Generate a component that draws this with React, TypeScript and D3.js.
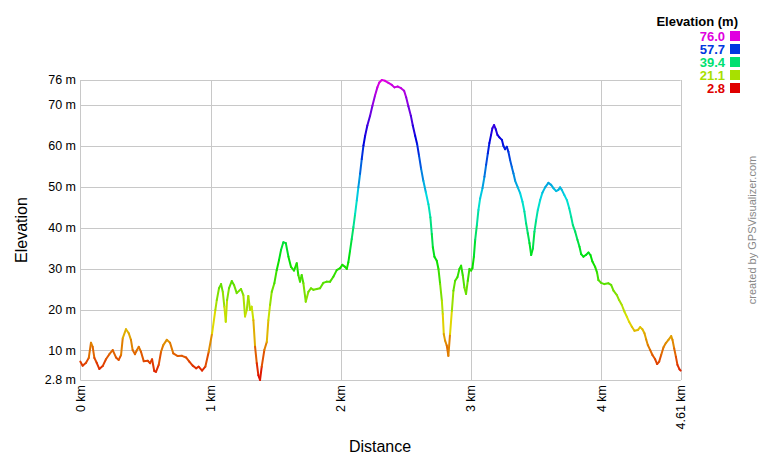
import React from "react";
import * as d3 from "d3";

const distanceKm = [
  0, 0.018, 0.044, 0.065, 0.082, 0.095, 0.108, 0.126, 0.146, 0.172, 0.197, 0.223, 0.249, 0.274, 0.295, 0.313,
  0.326, 0.351, 0.372, 0.389, 0.402, 0.42, 0.433, 0.449, 0.466, 0.487, 0.518, 0.535, 0.551, 0.568, 0.581, 0.602,
  0.62, 0.637, 0.664, 0.689, 0.714, 0.748, 0.781, 0.812, 0.837, 0.863, 0.889, 0.909, 0.935, 0.96, 0.986, 1.012,
  1.037, 1.048, 1.065, 1.081, 1.094, 1.106, 1.117, 1.127, 1.142, 1.163, 1.18, 1.201, 1.234, 1.252, 1.265, 1.278,
  1.29, 1.303, 1.316, 1.329, 1.342, 1.355, 1.367, 1.38, 1.393, 1.413, 1.432, 1.444, 1.457, 1.47, 1.49, 1.508,
  1.526, 1.541, 1.559, 1.578, 1.598, 1.618, 1.641, 1.662, 1.674, 1.687, 1.7, 1.713, 1.731, 1.751, 1.772, 1.79,
  1.816, 1.841, 1.866, 1.892, 1.918, 1.943, 1.969, 1.995, 2.012, 2.033, 2.046, 2.058, 2.071, 2.084, 2.097, 2.11,
  2.123, 2.135, 2.148, 2.161, 2.174, 2.187, 2.204, 2.225, 2.243, 2.263, 2.281, 2.296, 2.315, 2.34, 2.366, 2.392,
  2.412, 2.438, 2.463, 2.486, 2.502, 2.519, 2.538, 2.553, 2.571, 2.586, 2.601, 2.617, 2.634, 2.653, 2.673, 2.688,
  2.699, 2.707, 2.719, 2.737, 2.75, 2.763, 2.776, 2.783, 2.791, 2.801, 2.814, 2.826, 2.839, 2.853, 2.865, 2.878,
  2.896, 2.911, 2.924, 2.937, 2.949, 2.962, 2.975, 2.988, 3.001, 3.011, 3.022, 3.032, 3.045, 3.057, 3.07, 3.088,
  3.103, 3.116, 3.129, 3.141, 3.154, 3.164, 3.177, 3.19, 3.203, 3.218, 3.237, 3.249, 3.262, 3.275, 3.287, 3.3,
  3.313, 3.326, 3.339, 3.359, 3.377, 3.395, 3.41, 3.423, 3.436, 3.449, 3.462, 3.475, 3.487, 3.5, 3.513, 3.531,
  3.548, 3.569, 3.594, 3.615, 3.633, 3.654, 3.671, 3.684, 3.697, 3.717, 3.736, 3.754, 3.769, 3.782, 3.8, 3.817,
  3.833, 3.846, 3.863, 3.882, 3.902, 3.917, 3.932, 3.953, 3.968, 3.978, 3.999, 4.024, 4.055, 4.076, 4.094, 4.12,
  4.137, 4.158, 4.178, 4.197, 4.214, 4.235, 4.255, 4.281, 4.299, 4.316, 4.332, 4.345, 4.358, 4.376, 4.393, 4.414,
  4.429, 4.445, 4.46, 4.478, 4.496, 4.516, 4.537, 4.547, 4.56, 4.573, 4.585, 4.601, 4.61,
];

const elevationM = [
  7.3, 6.3, 7.0, 8.2, 11.9, 10.9, 8.2, 7.0, 5.5, 6.2, 7.85, 9.1, 10.1, 8.3, 7.7, 8.9,
  13.0, 15.2, 14.2, 12.6, 10.1, 9.1, 10.0, 10.9, 9.7, 7.4, 7.5, 6.9, 7.85, 5.0, 4.8, 6.5,
  9.7, 11.3, 12.6, 11.9, 9.3, 8.65, 8.7, 8.3, 7.3, 6.3, 5.65, 6.05, 5.1, 6.05, 9.7, 14.2,
  19.9, 22.3, 25.2, 26.2, 24.3, 20.7, 17.0, 22.3, 25.2, 26.95, 26.0, 24.0, 25.0, 23.5, 18.3, 19.9,
  23.3, 19.9, 20.7, 17.4, 10.9, 6.9, 4.0, 2.8, 6.05, 10.1, 12.1, 17.4, 21.1, 24.3, 26.4, 29.6,
  32.1, 34.5, 36.4, 36.2, 32.9, 30.4, 29.5, 31.3, 28.4, 26.8, 28.4, 26.4, 21.9, 24.3, 25.2, 24.8,
  25.0, 25.2, 26.5, 26.8, 26.8, 28.0, 29.6, 30.1, 30.9, 30.4, 29.9, 31.5, 34.3, 37.2, 40.1, 43.3,
  46.6, 49.8, 53.1, 56.7, 60.0, 62.4, 64.9, 67.3, 69.7, 72.2, 74.2, 75.4, 76.0, 75.8, 75.3, 74.8,
  74.2, 74.4, 74.0, 73.4, 71.8, 69.6, 67.3, 64.9, 62.4, 60.4, 57.5, 54.3, 51.4, 48.6, 45.7, 42.5,
  38.4, 35.2, 32.9, 31.9, 29.9, 26.2, 22.2, 18.9, 14.0, 12.4, 11.2, 8.7, 14.0, 19.7, 24.6, 27.0,
  27.9, 29.9, 30.7, 28.3, 25.4, 23.8, 27.0, 29.9, 29.5, 30.1, 32.9, 37.0, 40.6, 44.3, 47.1, 49.6,
  52.4, 55.3, 58.1, 60.6, 62.6, 64.2, 65.0, 64.0, 62.6, 62.0, 61.4, 59.9, 59.1, 59.7, 58.5, 56.5,
  54.8, 53.2, 51.4, 49.8, 48.4, 46.3, 43.9, 41.0, 38.6, 36.2, 33.3, 34.9, 39.0, 41.8, 44.3, 46.7,
  48.5, 49.8, 50.9, 50.4, 49.6, 48.9, 49.2, 49.8, 49.2, 47.9, 46.7, 44.7, 42.6, 40.6, 39.0, 37.0,
  35.3, 33.5, 32.9, 33.3, 33.9, 33.3, 31.7, 30.4, 29.0, 27.2, 26.5, 26.2, 26.4, 26.0, 24.6, 23.5,
  22.3, 21.1, 19.5, 18.2, 17.0, 15.8, 14.8, 15.0, 15.7, 15.2, 14.2, 12.7, 11.3, 10.1, 8.9, 7.85,
  6.7, 7.3, 8.9, 10.8, 11.8, 12.6, 13.5, 12.6, 10.5, 8.5, 6.5, 5.4, 5.1,
];

const yTickValues = [2.8, 10, 20, 30, 40, 50, 60, 70, 76];
const yTickLabels = ["2.8 m", "10 m", "20 m", "30 m", "40 m", "50 m", "60 m", "70 m", "76 m"];
const xTickValues = [0, 1, 2, 3, 4, 4.61];
const xTickLabels = ["0 km", "1 km", "2 km", "3 km", "4 km", "4.61 km"];
const legendValues = [76.0, 57.7, 39.4, 21.1, 2.8];
const legendLabels = ["76.0", "57.7", "39.4", "21.1", "2.8"];

const W = 760;
const H = 460;
const left = 80.3;
const right = 680.7;
const top = 80;
const bottom = 380;
const FONT = "'Liberation Sans', Arial, sans-serif";
const GRID = "#c8c8c8";

export default function App() {
  const x = d3.scaleLinear().domain([0, 4.61]).range([left, right]);
  const y = d3.scaleLinear().domain([2.8, 76]).range([bottom, top]);
  const hue = d3.scaleLinear().domain([2.8, 76]).range([0, 300]);
  const color = (e: number) => d3.hsl(hue(e), 1, 0.44).formatHex();

  const segs = [] as { x1: number; y1: number; x2: number; y2: number; c: string }[];
  for (let i = 0; i < distanceKm.length - 1; i++) {
    segs.push({
      x1: x(distanceKm[i]),
      y1: y(elevationM[i]),
      x2: x(distanceKm[i + 1]),
      y2: y(elevationM[i + 1]),
      c: color((elevationM[i] + elevationM[i + 1]) / 2),
    });
  }

  return (
    <svg
      width={W}
      height={H}
      style={{ position: "absolute", left: 0, top: 0, background: "#fff" }}
      fontFamily={FONT}
    >
      <rect x={0} y={0} width={W} height={H} fill="#fff" />
      {yTickValues.map((v) => (
        <line key={"gy" + v} x1={left} x2={right} y1={Math.round(y(v)) + 0.5} y2={Math.round(y(v)) + 0.5} stroke={GRID} strokeWidth={1} />
      ))}
      {xTickValues.map((v) => (
        <line key={"gx" + v} x1={Math.round(x(v)) + 0.5} x2={Math.round(x(v)) + 0.5} y1={top} y2={bottom} stroke={GRID} strokeWidth={1} />
      ))}
      {yTickValues.map((v, i) => (
        <text key={"ly" + v} x={76} y={y(v)} dy="0.35em" textAnchor="end" fontSize={12.5} fill="#000">
          {yTickLabels[i]}
        </text>
      ))}
      {xTickValues.map((v, i) => (
        <text
          key={"lx" + v}
          transform={`translate(${x(v)},${bottom + 5}) rotate(-90)`}
          dy="0.35em"
          textAnchor="end"
          fontSize={12.5}
          fill="#000"
        >
          {xTickLabels[i]}
        </text>
      ))}
      <g strokeWidth={2} strokeLinecap="round">
        {segs.map((s, i) => (
          <line key={i} x1={s.x1} y1={s.y1} x2={s.x2} y2={s.y2} stroke={s.c} />
        ))}
      </g>
      <text x={380} y={452} textAnchor="middle" fontSize={16} fill="#000">
        Distance
      </text>
      <text transform={`translate(27,230) rotate(-90)`} textAnchor="middle" fontSize={16} fill="#000">
        Elevation
      </text>
      <text x={738} y={26} textAnchor="end" fontSize={13} fontWeight="bold" fill="#000">
        Elevation (m)
      </text>
      {legendValues.map((v, i) => (
        <g key={"lg" + i}>
          <text x={725} y={41 + i * 13} textAnchor="end" fontSize={13} fontWeight="bold" fill={color(v)}>
            {legendLabels[i]}
          </text>
          <rect x={730} y={31 + i * 13} width={10} height={10} fill={color(v)} />
        </g>
      ))}
      <text transform={`translate(756,230) rotate(-90)`} textAnchor="middle" fontSize={11} fill="#888">
        created by GPSVisualizer.com
      </text>
    </svg>
  );
}
